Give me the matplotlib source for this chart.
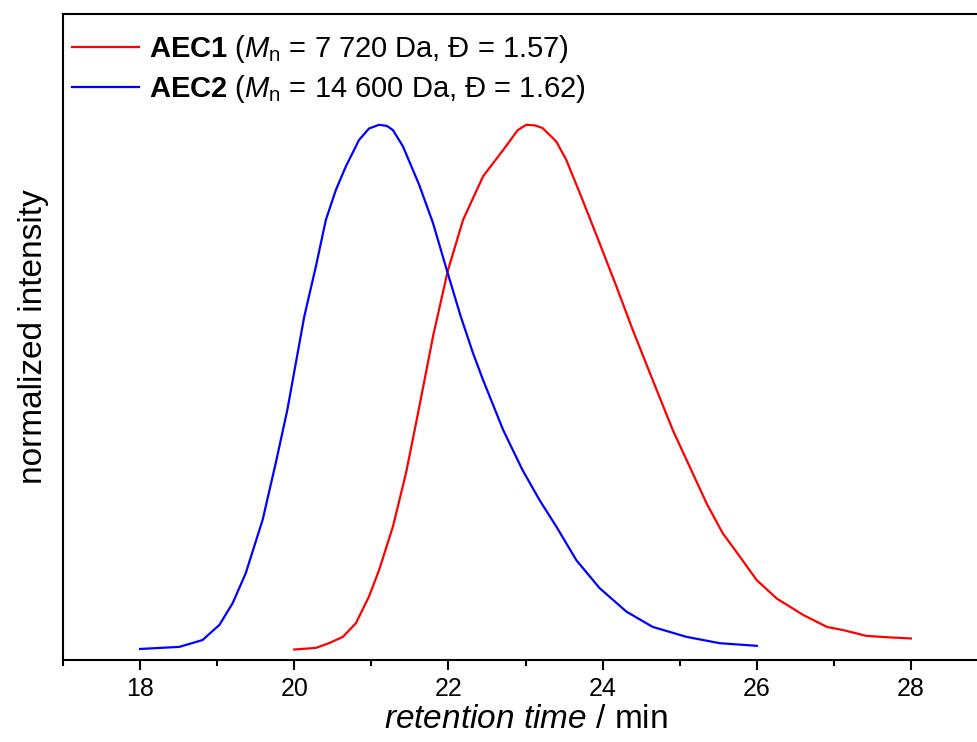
import matplotlib

matplotlib.use("Agg")
import matplotlib.pyplot as plt
from matplotlib.ticker import MultipleLocator

plt.rcParams["font.family"] = ["Liberation Sans", "DejaVu Sans"]
plt.rcParams["mathtext.fontset"] = "custom"
plt.rcParams["mathtext.rm"] = "Liberation Sans"
plt.rcParams["mathtext.it"] = "Liberation Sans:italic"
plt.rcParams["mathtext.bf"] = "Liberation Sans:bold"

# AEC1 trace, retention time / min vs normalized intensity
aec1_t = [20.00, 20.28, 20.45, 20.63, 20.80, 20.97, 21.10, 21.28, 21.45, 21.58,
          21.69, 21.80, 21.99, 22.19, 22.45, 22.71, 22.90, 23.01, 23.12, 23.22,
          23.40, 23.53, 23.74, 23.96, 24.18, 24.39, 24.65, 24.91, 25.13, 25.35,
          25.56, 25.78, 26.00, 26.26, 26.60, 26.91, 27.12, 27.42, 27.73, 28.00]
aec1_i = [0.001, 0.004, 0.013, 0.025, 0.051, 0.102, 0.152, 0.235, 0.337, 0.432,
          0.514, 0.597, 0.721, 0.819, 0.902, 0.952, 0.990, 1.000, 0.999, 0.994,
          0.968, 0.933, 0.857, 0.775, 0.692, 0.610, 0.514, 0.419, 0.349, 0.279,
          0.222, 0.178, 0.133, 0.098, 0.067, 0.044, 0.038, 0.027, 0.024, 0.022]

# AEC2 trace
aec2_t = [18.00, 18.51, 18.81, 19.03, 19.20, 19.37, 19.59, 19.76, 19.91, 20.13,
          20.28, 20.41, 20.54, 20.67, 20.84, 20.97, 21.10, 21.20, 21.28, 21.41,
          21.62, 21.80, 21.99, 22.16, 22.32, 22.45, 22.71, 22.96, 23.18, 23.40,
          23.66, 23.96, 24.31, 24.65, 25.09, 25.52, 26.00]
aec2_i = [0.002, 0.006, 0.019, 0.048, 0.089, 0.146, 0.248, 0.356, 0.457, 0.635,
          0.730, 0.819, 0.876, 0.921, 0.971, 0.993, 1.000, 0.998, 0.990, 0.959,
          0.886, 0.813, 0.718, 0.635, 0.565, 0.514, 0.419, 0.343, 0.286, 0.235,
          0.171, 0.118, 0.073, 0.044, 0.025, 0.013, 0.008]

labels = [r"$\mathbf{AEC1}$ ($M_\mathrm{n}$ = 7 720 Da, Đ = 1.57)",
          r"$\mathbf{AEC2}$ ($M_\mathrm{n}$ = 14 600 Da, Đ = 1.62)"]

fig = plt.figure(figsize=(9.78, 7.42), dpi=100)
ax = fig.add_axes([63 / 978, 82 / 742, 925 / 978, 646 / 742])

ax.plot(aec1_t, aec1_i, color="#ff0000", linewidth=1.6, label=labels[0])
ax.plot(aec2_t, aec2_i, color="#0000ff", linewidth=1.6, label=labels[1])

ax.set_xlim(17, 29)
ax.set_ylim(-0.019, 1.211)
ax.xaxis.set_major_locator(MultipleLocator(2))
ax.xaxis.set_minor_locator(MultipleLocator(1))
ax.tick_params(axis="x", which="major", direction="out", length=7.5, width=1.5,
               labelsize=18, pad=5)
ax.tick_params(axis="x", which="minor", direction="out", length=4.5, width=1.5)
ax.set_yticks([])
for sp in ax.spines.values():
    sp.set_linewidth(1.5)

ax.set_xlabel(r"$\mathit{retention\ time}$ / min", fontsize=24, labelpad=2)
ax.set_ylabel("normalized intensity", fontsize=24, labelpad=10)

leg = ax.legend(loc="upper left", bbox_to_anchor=(0.0, 1 - 10 / 646),
                fontsize=21, frameon=False, handlelength=2.3,
                handletextpad=0.35, labelspacing=0.28, borderaxespad=0.1,
                borderpad=0.2)

fig.savefig("out.png", dpi=100)
